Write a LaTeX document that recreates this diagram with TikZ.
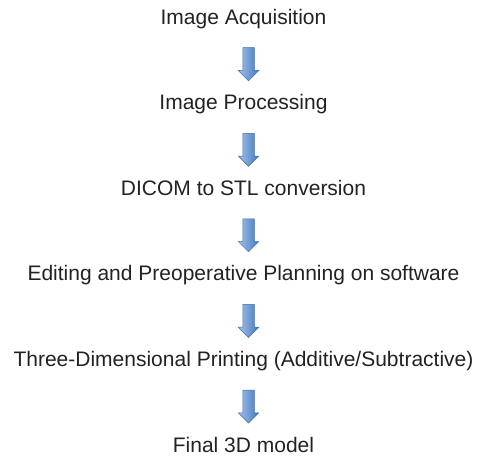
\documentclass[tikz,border=0pt]{standalone}
\usepackage{fontspec}
\setmainfont{Liberation Sans}
\usepackage{tikz}
\usetikzlibrary{positioning,shapes.arrows}

\definecolor{arrowlight}{HTML}{A3C2EA}
\definecolor{arrowdark}{HTML}{4577BE}
\definecolor{arrowedge}{HTML}{3E6DB0}
\definecolor{textgray}{HTML}{222222}

\begin{document}
\begin{tikzpicture}[
      x=1pt, y=1pt,
      node distance=65.2pt,
      stage/.style={inner sep=0pt, text height=15.5pt, text depth=4.5pt, font=\fontsize{21}{24}\selectfont, text=textgray},
      downarrow/.style={single arrow, shape border rotate=270, draw=arrowedge, line width=0.5pt,
        left color=arrowlight, right color=arrowdark,
        minimum height=33pt, inner xsep=5.5pt, inner ysep=0pt,
        single arrow head extend=4.5pt, single arrow head indent=0pt, xshift=5pt}
    ]
    \useasboundingbox (0,0) rectangle (484,-455);

    \node[stage, anchor=base] (acq) at (243.5,-24) {Image Acquisition};
    \node[stage, below=of acq] (proc) {Image Processing};
    \node[stage, below=of proc] (conv) {DICOM to STL conversion};
    \node[stage, below=of conv] (plan) {Editing and Preoperative Planning on software};
    \node[stage, below=of plan] (print) {Three-Dimensional Printing (Additive/Subtractive)};
    \node[stage, below=of print] (model) {Final 3D model};

    \path (acq) -- node[downarrow] {} (proc);
    \path (proc) -- node[downarrow] {} (conv);
    \path (conv) -- node[downarrow] {} (plan);
    \path (plan) -- node[downarrow] {} (print);
    \path (print) -- node[downarrow] {} (model);
  \end{tikzpicture}
\end{document}
